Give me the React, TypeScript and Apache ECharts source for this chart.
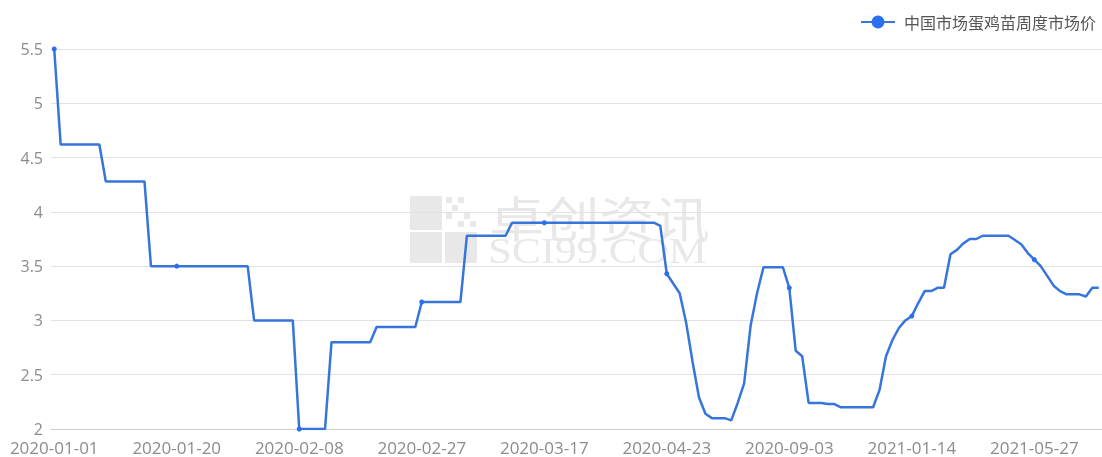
import React, { useEffect, useRef } from "react";
import * as echarts from "echarts";

// ---- categories (daily until 2020-04-02, weekly afterwards) ----
const janDates = [
  "2020-01-01", "2020-01-02", "2020-01-03", "2020-01-04", "2020-01-05", "2020-01-06", "2020-01-07", "2020-01-08",
  "2020-01-09", "2020-01-10", "2020-01-11", "2020-01-12", "2020-01-13", "2020-01-14", "2020-01-15", "2020-01-16",
  "2020-01-17", "2020-01-18", "2020-01-19", "2020-01-20", "2020-01-21", "2020-01-22", "2020-01-23", "2020-01-24",
  "2020-01-25", "2020-01-26", "2020-01-27", "2020-01-28", "2020-01-29", "2020-01-30", "2020-01-31",
];
const febDates = [
  "2020-02-01", "2020-02-02", "2020-02-03", "2020-02-04", "2020-02-05", "2020-02-06", "2020-02-07", "2020-02-08",
  "2020-02-09", "2020-02-10", "2020-02-11", "2020-02-12", "2020-02-13", "2020-02-14", "2020-02-15", "2020-02-16",
  "2020-02-17", "2020-02-18", "2020-02-19", "2020-02-20", "2020-02-21", "2020-02-22", "2020-02-23", "2020-02-24",
  "2020-02-25", "2020-02-26", "2020-02-27", "2020-02-28", "2020-02-29",
];
const marAprDates = [
  "2020-03-01", "2020-03-02", "2020-03-03", "2020-03-04", "2020-03-05", "2020-03-06", "2020-03-07", "2020-03-08",
  "2020-03-09", "2020-03-10", "2020-03-11", "2020-03-12", "2020-03-13", "2020-03-14", "2020-03-15", "2020-03-16",
  "2020-03-17", "2020-03-18", "2020-03-19", "2020-03-20", "2020-03-21", "2020-03-22", "2020-03-23", "2020-03-24",
  "2020-03-25", "2020-03-26", "2020-03-27", "2020-03-28", "2020-03-29", "2020-03-30", "2020-03-31",
  "2020-04-01", "2020-04-02",
];
const weeklyDates = [
  "2020-04-09", "2020-04-16", "2020-04-23", "2020-04-30", "2020-05-07", "2020-05-14", "2020-05-21", "2020-05-28",
  "2020-06-04", "2020-06-11", "2020-06-18", "2020-06-25", "2020-07-02", "2020-07-09", "2020-07-16", "2020-07-23",
  "2020-07-30", "2020-08-06", "2020-08-13", "2020-08-20", "2020-08-27", "2020-09-03", "2020-09-10", "2020-09-17",
  "2020-09-24", "2020-10-01", "2020-10-08", "2020-10-15", "2020-10-22", "2020-10-29", "2020-11-05", "2020-11-12",
  "2020-11-19", "2020-11-26", "2020-12-03", "2020-12-10", "2020-12-17", "2020-12-24", "2020-12-31", "2021-01-07",
  "2021-01-14", "2021-01-21", "2021-01-28", "2021-02-04", "2021-02-11", "2021-02-18", "2021-02-25", "2021-03-04",
  "2021-03-11", "2021-03-18", "2021-03-25", "2021-04-01", "2021-04-08", "2021-04-15", "2021-04-22", "2021-04-29",
  "2021-05-06", "2021-05-13", "2021-05-20", "2021-05-27", "2021-06-03", "2021-06-10", "2021-06-17", "2021-06-24",
  "2021-07-01", "2021-07-08", "2021-07-15", "2021-07-22", "2021-07-29", "2021-08-05",
];

// ---- values ----
const dailyPrices = [
  5.5,
  4.62, 4.62, 4.62, 4.62, 4.62, 4.62, 4.62,
  4.28, 4.28, 4.28, 4.28, 4.28, 4.28, 4.28,
  3.5, 3.5, 3.5, 3.5, 3.5, 3.5, 3.5, 3.5, 3.5, 3.5, 3.5, 3.5, 3.5, 3.5, 3.5, 3.5,
  3.0, 3.0, 3.0, 3.0, 3.0, 3.0, 3.0,
  2.0, 2.0, 2.0, 2.0, 2.0,
  2.8, 2.8, 2.8, 2.8, 2.8, 2.8, 2.8,
  2.94, 2.94, 2.94, 2.94, 2.94, 2.94, 2.94,
  3.17, 3.17, 3.17, 3.17, 3.17, 3.17, 3.17,
  3.78, 3.78, 3.78, 3.78, 3.78, 3.78, 3.78,
  3.9, 3.9, 3.9, 3.9, 3.9, 3.9, 3.9, 3.9, 3.9, 3.9, 3.9,
  3.9, 3.9, 3.9, 3.9, 3.9, 3.9, 3.9, 3.9, 3.9, 3.9, 3.9,
];
const weeklyPrices = [
  3.9, 3.87, 3.43, 3.34, 3.25, 2.98, 2.62, 2.29, 2.14, 2.1,
  2.1, 2.1, 2.08, 2.24, 2.42, 2.95, 3.25, 3.49, 3.49, 3.49,
  3.49, 3.3, 2.72, 2.67, 2.24, 2.24, 2.24, 2.23, 2.23, 2.2,
  2.2, 2.2, 2.2, 2.2, 2.2, 2.36, 2.67, 2.82, 2.93, 3.0,
  3.04, 3.16, 3.27, 3.27, 3.3, 3.3, 3.61, 3.65, 3.71, 3.75,
  3.75, 3.78, 3.78, 3.78, 3.78, 3.78, 3.74, 3.7, 3.62, 3.56,
  3.5, 3.41, 3.32, 3.27, 3.24, 3.24, 3.24, 3.22, 3.3, 3.3,
];

const seriesName = "中国市场蛋鸡苗周度市场价";
const yMin = 2;
const yMax = 5.5;
const yStep = 0.5;
const labelEvery = 19;
const tickOffset = 10;

const categories = [...janDates, ...febDates, ...marAprDates, ...weeklyDates];
const prices = [...dailyPrices, ...weeklyPrices];

const WM = "#e8e8e8";

export default function App() {
  const ref = useRef<HTMLDivElement>(null);
  useEffect(() => {
    document.body.style.margin = "0";
    const chart = echarts.init(ref.current!, null, { renderer: "svg" });
    chart.setOption({
      animation: false,
      grid: { left: 51, right: 0, top: 49, bottom: 28 },
      legend: {
        data: [seriesName],
        right: 1,
        top: 9,
        itemWidth: 34,
        itemHeight: 16,
        itemGap: 10,
        lineStyle: { width: 2 },
        textStyle: { fontSize: 16, color: "#555", fontFamily: "Noto Sans CJK SC", padding: [0, 0, 0, 4] },
      },
      graphic: [
        {
          type: "group",
          z: -10,
          silent: true,
          children: [
            { type: "rect", shape: { x: 410, y: 196, width: 32, height: 34 }, style: { fill: WM } },
            { type: "rect", shape: { x: 410, y: 232, width: 32, height: 31 }, style: { fill: WM } },
            { type: "rect", shape: { x: 445, y: 232, width: 32, height: 31 }, style: { fill: WM } },
            { type: "rect", shape: { x: 446, y: 197, width: 6, height: 6 }, style: { fill: WM } },
            { type: "rect", shape: { x: 458, y: 197, width: 6, height: 6 }, style: { fill: WM } },
            { type: "rect", shape: { x: 452, y: 205, width: 6, height: 6 }, style: { fill: WM } },
            { type: "rect", shape: { x: 446, y: 213, width: 6, height: 6 }, style: { fill: WM } },
            { type: "rect", shape: { x: 464, y: 213, width: 6, height: 6 }, style: { fill: WM } },
            { type: "rect", shape: { x: 458, y: 221, width: 6, height: 6 }, style: { fill: WM } },
            { type: "rect", shape: { x: 470, y: 221, width: 6, height: 6 }, style: { fill: WM } },
            {
              type: "text",
              x: 489,
              y: 192,
              scaleX: 1.15,
              style: { text: "卓创资讯", fontSize: 48, fontFamily: "Noto Sans CJK SC", fill: WM, verticalAlign: "top" },
            },
            {
              type: "text",
              x: 488,
              y: 233,
              scaleX: 1.23,
              style: { text: "SCI99.COM", fontSize: 35, fontFamily: "Liberation Serif", fill: WM, verticalAlign: "top" },
            },
          ],
        },
      ],
      xAxis: {
        type: "category",
        data: categories,
        boundaryGap: true,
        axisLine: { lineStyle: { color: "#ccc" } },
        axisTick: {
          interval: (i: number) => i % labelEvery === tickOffset,
          lineStyle: { color: "#ccc" },
        },
        axisLabel: {
          interval: labelEvery - 1,
          color: "#8c8c8c",
          fontSize: 17,
          lineHeight: 14,
          fontFamily: "Open Sans",
          margin: 11,
        },
      },
      yAxis: {
        type: "value",
        min: yMin,
        max: yMax,
        interval: yStep,
        axisLabel: { color: "#8c8c8c", fontSize: 16, lineHeight: 14, fontFamily: "Open Sans", margin: 8 },
        splitLine: { lineStyle: { color: "#e2e2e2" } },
      },
      series: [
        {
          name: seriesName,
          type: "line",
          data: prices,
          symbol: "circle",
          symbolSize: 5,
          itemStyle: { color: "#2b6ff0" },
          lineStyle: { color: "#3675db", width: 2.5 },
        },
      ],
    });
    return () => chart.dispose();
  }, []);
  return <div ref={ref} style={{ position: "fixed", left: 0, top: 0, width: 1102, height: 457 }} />;
}
